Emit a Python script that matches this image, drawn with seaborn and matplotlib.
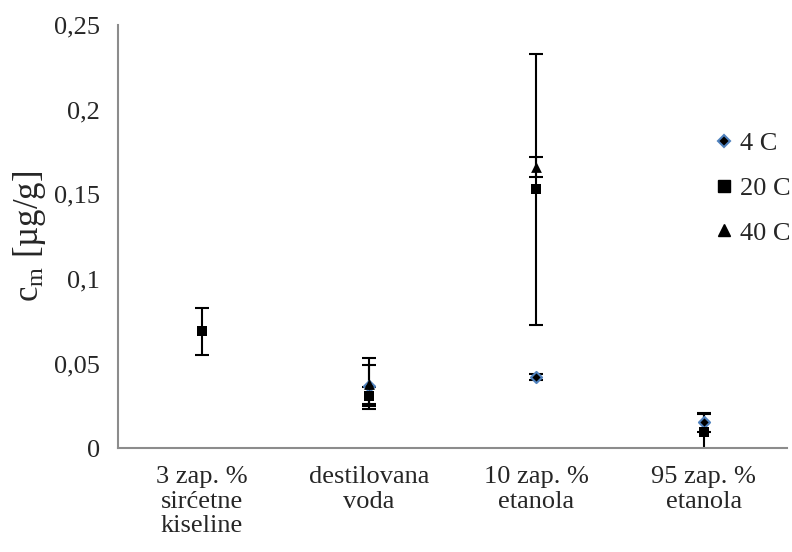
import numpy as np
import pandas as pd
import matplotlib
matplotlib.use("Agg")
import matplotlib.pyplot as plt
from matplotlib.lines import Line2D
import seaborn as sns

categories = ["3 zap. %\nsirćetne\nkiseline", "destilovana\nvoda",
              "10 zap. %\netanola", "95 zap. %\netanola"]
temps = ["4 C", "20 C", "40 C"]

c4_mean = [np.nan, 0.037, 0.042, 0.0152]
c4_err = [np.nan, 0.012, 0.002, 0.0055]
c20_mean = [0.069, 0.031, 0.153, 0.0095]
c20_err = [0.014, 0.005, 0.080, 0.011]
c40_mean = [np.nan, 0.038, 0.166, np.nan]
c40_err = [np.nan, 0.015, 0.006, np.nan]

yticks = [0, 0.05, 0.1, 0.15, 0.2, 0.25]
ytick_labels = ["0", "0,05", "0,1", "0,15", "0,2", "0,25"]


def build_frame():
    rows = []
    series = {"4 C": (c4_mean, c4_err), "20 C": (c20_mean, c20_err),
              "40 C": (c40_mean, c40_err)}
    for temp in temps:
        means, errs = series[temp]
        for i, cat in enumerate(categories):
            rows.append({"pos": i, "category": cat, "temp": temp,
                         "value": means[i], "err": errs[i]})
    return pd.DataFrame(rows)


def main():
    sns.set_style("white")
    plt.rcParams["font.family"] = ["Liberation Serif", "DejaVu Serif"]
    plt.rcParams["mathtext.fontset"] = "custom"
    plt.rcParams["mathtext.rm"] = "Liberation Serif"
    plt.rcParams["mathtext.it"] = "Liberation Serif"

    df = build_frame().dropna()
    gray = "#8C8C8C"
    fsize = 19

    fig = plt.figure(figsize=(7.92, 5.52), dpi=100)
    ax = fig.add_axes([0.149, 0.188, 0.845, 0.767])

    styles = {
        "4 C": dict(marker="D", s=32, color="black", edgecolor="#4F81BD", linewidth=1.5),
        "20 C": dict(marker="s", s=58, color="black", edgecolor="black", linewidth=0),
        "40 C": dict(marker="^", s=60, color="black", edgecolor="black", linewidth=0),
    }
    for temp in temps:
        sub = df[df.temp == temp]
        ax.errorbar(sub.pos, sub.value, yerr=sub.err, fmt="none",
                    ecolor="black", elinewidth=1.5, capsize=4.7, capthick=1.5,
                    zorder=2)
        sns.scatterplot(data=sub, x="pos", y="value", ax=ax, zorder=3,
                        legend=False, **styles[temp])

    ax.set_xlim(-0.5, 3.5)
    ax.set_ylim(0, 0.25)
    ax.set_yticks(yticks)
    ax.set_yticklabels(ytick_labels)
    ax.set_xticks(np.arange(-0.5, 4, 1))
    ax.set_xticklabels([])
    ax.set_xticks(range(len(categories)), minor=True)
    ax.set_xticklabels(categories, minor=True)
    for t in ax.get_xticklabels(minor=True):
        t.set_linespacing(1.15)
    ax.tick_params(axis="x", which="minor", length=0, pad=13, labelsize=fsize)
    ax.tick_params(axis="x", which="major", length=7, width=1.5, color=gray,
                   direction="out")
    ax.tick_params(axis="y", length=6, width=1.5, color=gray,
                   direction="out", labelsize=fsize, pad=7)
    ax.set_xlabel("")
    ax.set_ylabel(r"c$_\mathrm{m}$ [µg/g]", fontsize=25, labelpad=4)
    for side in ["top", "right"]:
        ax.spines[side].set_visible(False)
    for side in ["left", "bottom"]:
        ax.spines[side].set_color(gray)
        ax.spines[side].set_linewidth(1.5)

    handles = [
        Line2D([], [], marker="D", color="black", markeredgecolor="#4F81BD",
               markeredgewidth=1.5, markersize=6, linestyle="none"),
        Line2D([], [], marker="s", color="black", markersize=8, linestyle="none"),
        Line2D([], [], marker="^", color="black", markersize=8, linestyle="none"),
    ]
    fig.legend(handles, temps, loc="center left",
               bbox_to_anchor=(0.903, 0.659), frameon=False, fontsize=fsize,
               handlelength=0.7, handletextpad=0.25, labelspacing=0.8,
               borderpad=0, borderaxespad=0)

    fig.savefig("out.png", dpi=100)


if __name__ == "__main__":
    main()
